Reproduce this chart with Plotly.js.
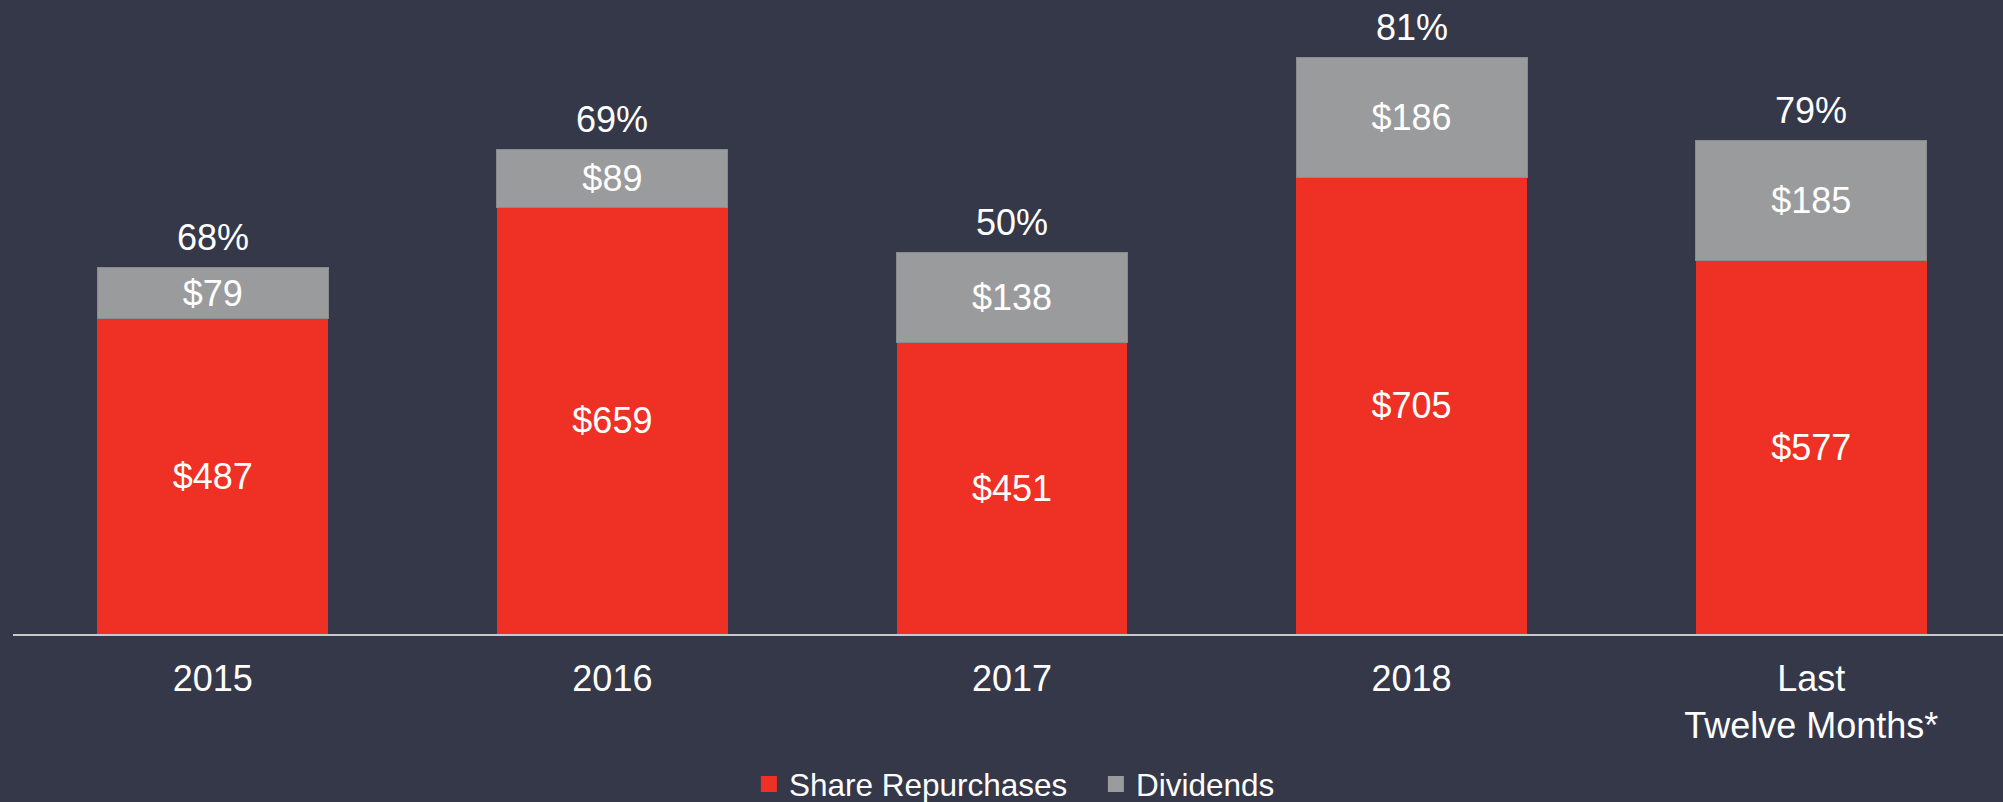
<!DOCTYPE html>
<html>
<head>
<meta charset="utf-8">
<script src="https://cdn.plot.ly/plotly-3.0.1.min.js"></script>
<style>
html,body{margin:0;padding:0;background:#353849;}
#chart{width:2003px;height:802px;}
</style>
</head>
<body>
<div id="chart"></div>
<script>
const categories = ["2015", "2016", "2017", "2018", "Last<br>Twelve Months*"];
const shareRepurchases = [487, 659, 451, 705, 577];
const dividends = [79, 89, 138, 186, 185];
const payoutPct = ["68%", "69%", "50%", "81%", "79%"];
const seriesNames = ["Share Repurchases", "Dividends"];
const seriesColors = ["#ee3124", "#9a9b9d"];

const FONT = "Liberation Sans, Arial, Helvetica, sans-serif";
const totals = shareRepurchases.map((v, i) => v + dividends[i]);

function barTrace(name, values, color, line) {
  return {
    type: "bar",
    name: name,
    x: categories,
    y: values,
    showlegend: false,
    text: values.map(v => "$" + v),
    textposition: "inside",
    insidetextanchor: "middle",
    textangle: 0,
    constraintext: "none",
    textfont: {family: FONT, size: 36, color: "#ffffff"},
    marker: {color: color, line: line}
  };
}

function legendTrace(name, color) {
  return {
    type: "scatter", mode: "markers", name: name,
    x: [null], y: [null],
    marker: {symbol: "square", size: 16, color: color, line: {width: 0}},
    showlegend: true
  };
}

const traces = [
  barTrace(seriesNames[0], shareRepurchases, seriesColors[0], {width: 0}),
  barTrace(seriesNames[1], dividends, seriesColors[1], {width: 1, color: "#8a8b8e"}),
  legendTrace(seriesNames[0], seriesColors[0]),
  legendTrace(seriesNames[1], seriesColors[1])
];

const annotations = categories.map((c, i) => ({
  x: i, y: totals[i], xref: "x", yref: "y",
  text: payoutPct[i], showarrow: false,
  yanchor: "middle", yshift: 30,
  font: {family: FONT, size: 36, color: "#ffffff"}
}));

const layout = {
  width: 2003, height: 802,
  paper_bgcolor: "#353849",
  plot_bgcolor: "#353849",
  margin: {l: 13, r: 0, t: 0, b: 168, pad: 0, autoexpand: false},
  barmode: "stack",
  bargap: 0.422,
  showlegend: true,
  legend: {
    orientation: "h", x: 0.3698, xanchor: "left", y: -0.2366, yanchor: "middle",
    font: {family: FONT, size: 31.5, color: "#ffffff"},
    itemwidth: 30, entrywidth: 302, traceorder: "normal", bgcolor: "rgba(0,0,0,0)"
  },
  xaxis: {
    type: "category",
    range: [-0.5, 4.48],
    showline: true, linecolor: "#c8c8c8", linewidth: 2,
    showgrid: false, zeroline: false, ticks: "",
    ticklabelstandoff: 12,
    tickfont: {family: FONT, size: 36, color: "#ffffff"},
    automargin: false,
    fixedrange: true
  },
  yaxis: {
    range: [0, 979.5],
    visible: false, showgrid: false, zeroline: false,
    fixedrange: true
  },
  annotations: annotations,
  hovermode: false
};

Plotly.newPlot("chart", traces, layout, {staticPlot: true, displayModeBar: false});
</script>
</body>
</html>
